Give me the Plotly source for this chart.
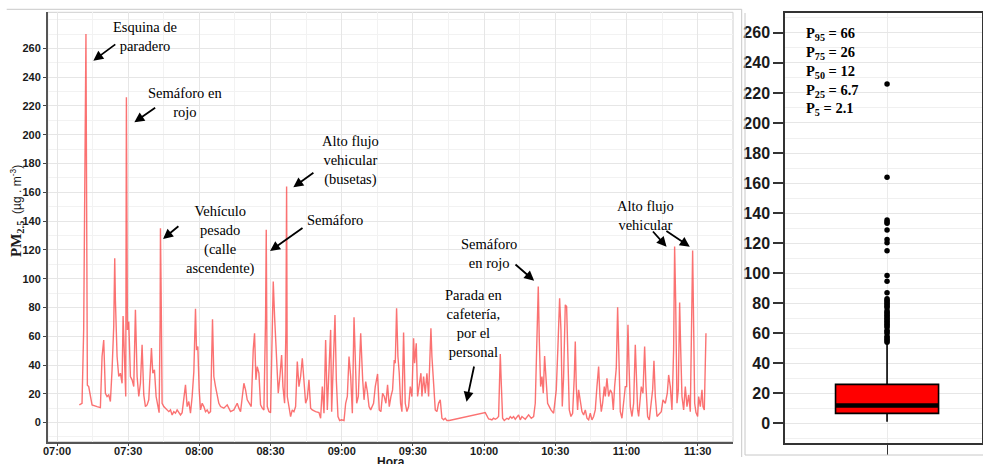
import datetime as dt
import plotly.graph_objects as go

# ---------------- data ----------------
# minutes after 07:00 and PM2.5 concentration (ug/m3)
minutes = [
    9.42, 10.55, 11.25, 11.7, 12.2, 12.5, 12.8, 13.36, 14.06, 14.77, 16.88, 18.28, 18.99, 19.69,
    20.39, 21.10, 21.80, 22.50, 23.21, 23.91, 24.33, 24.61, 25.32, 26.02, 26.72, 27.43, 27.85,
    28.41, 28.97, 29.25, 29.68, 30.24, 30.94, 31.65, 32.35, 33.05, 33.76, 34.46, 35.16, 35.86,
    36.57, 37.27, 37.97, 38.68, 39.38, 39.80, 40.37, 41.07, 41.77, 42.48, 43.04, 43.46, 43.60,
    43.88, 44.30, 45.01, 46.41, 47.12, 47.82, 48.52, 49.23, 49.93, 50.63, 52.04, 52.74, 53.45,
    54.15, 54.85, 55.56, 56.26, 56.96, 57.67, 58.37, 58.79, 59.35, 59.92, 60.48, 61.18, 61.88,
    62.59, 63.29, 63.99, 64.70, 65.54, 66.10, 66.81, 67.51, 68.21, 68.92, 70.32, 71.73, 73.14,
    74.54, 75.95, 76.65, 77.36, 78.76, 79.47, 80.17, 80.87, 81.86, 82.70, 83.26, 83.83, 84.39,
    85.09, 85.79, 86.50, 87.20, 87.90, 88.19, 88.61, 89.31, 90.01, 90.72, 91.14, 91.70, 92.26,
    92.83, 93.25, 93.95, 94.66, 95.22, 95.92, 96.48, 96.77, 97.05, 97.75, 98.45, 99.16, 99.86,
    100.56, 101.27, 101.97, 102.67, 103.38, 104.08, 104.78, 105.49, 106.19, 106.89, 107.59,
    109.00, 110.41, 111.11, 111.81, 112.52, 113.22, 113.92, 114.63, 115.33, 115.75, 116.46,
    117.16, 117.72, 118.42, 119.13, 119.83, 120.96, 121.66, 122.36, 123.07, 123.77, 124.47,
    125.18, 125.60, 126.30, 127.00, 127.99, 128.83, 129.40, 130.10, 130.80, 131.50, 132.21,
    133.42, 134.13, 135.11, 135.81, 136.51, 137.22, 137.92, 138.62, 139.32, 140.03, 140.73,
    141.43, 142.13, 142.56, 143.12, 143.68, 144.24, 144.80, 145.37, 146.07, 146.77, 147.47,
    148.18, 148.88, 149.58, 150.28, 150.71, 151.41, 151.97, 152.67, 153.38, 153.80, 154.50,
    155.20, 155.90, 156.61, 157.03, 157.59, 158.01, 158.71, 159.42, 160.12, 160.82, 161.52,
    162.23, 162.93, 163.63, 164.33, 165.32, 180.49, 181.20, 181.90, 182.60, 183.30, 184.01,
    184.71, 185.41, 186.11, 186.53, 186.82, 187.24, 187.80, 188.50, 189.63, 190.33, 191.03,
    191.73, 192.44, 193.14, 194.54, 195.25, 195.95, 197.35, 198.76, 199.88, 200.87, 201.57,
    202.27, 202.83, 203.26, 203.82, 204.38, 204.94, 205.50, 206.07, 206.77, 207.47, 208.17,
    209.30, 210.42, 211.12, 211.83, 212.39, 212.95, 213.51, 214.22, 214.78, 215.34, 215.90,
    216.60, 217.31, 218.01, 218.43, 218.85, 219.41, 219.84, 220.54, 221.24, 221.94, 222.65,
    223.35, 224.05, 224.75, 225.46, 226.16, 226.86, 227.56, 228.27, 228.83, 229.39, 229.95,
    230.66, 231.08, 231.78, 232.48, 233.19, 233.89, 234.45, 235.01, 235.71, 236.28, 236.84,
    237.40, 238.10, 238.81, 239.51, 240.07, 240.63, 241.05, 241.62, 242.32, 243.02, 243.72,
    244.15, 244.71, 245.13, 245.83, 246.25, 246.96, 247.66, 248.22, 248.92, 249.62, 250.33,
    251.03, 251.59, 252.15, 252.86, 253.56, 254.68, 255.39, 256.37, 257.21, 257.78, 258.48,
    259.18, 259.88, 260.30, 260.73, 261.29, 261.85, 262.41, 262.83, 263.39, 264.10, 264.80,
    265.50, 266.21, 266.91, 267.47, 267.89, 268.32, 268.74, 269.30, 270.00, 270.42, 271.13,
    271.83, 272.25, 272.81, 273.23, 273.51,
]
pm25 = [
    12.3, 13.4, 64.9, 200, 270, 147, 26.0, 25.0, 18.1, 12.3, 11.1, 10.4, 45.9, 57.4,
    20.4, 18.1, 19.2, 14.6, 36.6, 66.7, 114.2, 85.2, 45.9, 32.0, 34.3, 27.3, 74.1,
    48.2, 18.1, 226, 64.4, 70.2, 32.0, 29.7, 25.0, 78.3, 32.0, 18.1, 27.3, 54.0,
    19.2, 11.1, 12.3, 15.8, 41.2, 51.7, 34.3, 36.6, 18.1, 11.1, 6.9, 71.3, 135,
    92.2, 13.4, 11.1, 8.8, 7.6, 8.8, 5.3, 7.6, 6.5, 8.8, 5.3, 6.9, 18.1,
    26.2, 11.1, 14.6, 6.5, 18.1, 35.4, 79.0, 50.5, 52.8, 22.7, 8.8, 13.4, 11.1,
    7.6, 8.8, 6.5, 7.6, 71.8, 32.0, 25.0, 18.1, 13.4, 11.1, 10.0, 12.3, 7.6,
    8.8, 13.4, 10.0, 7.6, 27.3, 22.7, 15.8, 13.4, 11.1, 50.5, 62.1, 29.7, 38.9,
    34.3, 12.3, 10.0, 8.8, 72.5, 134, 11.1, 7.6, 6.9, 76.0, 98.0, 73.7, 52.8,
    38.9, 20.4, 32.0, 47.0, 25.0, 13.4, 64.4, 164, 18.1, 11.1, 4.2, 8.8, 7.6,
    11.1, 42.4, 25.0, 32.0, 44.7, 25.0, 13.4, 16.9, 29.7, 10.0, 8.8,
    7.6, 6.9, 3.0, 25.0, 6.5, 57.4, 8.8, 38.9, 64.4, 7.6, 45.9,
    74.8, 29.7, 4.2, 1.4, 1.9, 1.4, 13.4, 18.1, 45.9, 32.0, 6.5,
    73.2, 45.9, 13.4, 18.1, 62.1, 29.7, 15.8, 28.5, 21.5, 11.1, 8.8,
    13.4, 25.0, 33.8, 8.8, 7.6, 20.4, 18.1, 13.4, 26.2, 11.1, 18.1,
    22.7, 43.5, 41.2, 79.5, 45.9, 34.3, 13.4, 7.6, 62.5, 13.4, 7.6,
    11.1, 25.0, 18.1, 58.6, 41.2, 55.1, 18.1, 25.0, 34.3, 18.1, 32.0,
    20.4, 34.3, 18.1, 45.9, 65.6, 45.9, 25.0, 8.8, 7.6, 13.4, 15.8,
    3.0, 1.9, 3.0, 1.4, 1.4, 6.9, 4.2, 2.5, 2.3, 1.9, 3.0,
    2.3, 3.0, 4.2, 29.7, 47.7, 27.3, 3.0, 1.4, 3.0, 2.3, 4.2,
    3.0, 4.2, 2.3, 5.3, 1.9, 4.2, 2.3, 5.3, 3.0, 4.2, 13.4,
    64.4, 94.5, 57.4, 25.0, 32.0, 20.4, 46.3, 27.3, 13.4, 11.1, 8.8,
    6.5, 22.7, 52.8, 86.4, 64.4, 11.1, 32.0, 81.8, 80.6, 41.2, 8.8,
    4.2, 6.5, 32.0, 56.3, 25.0, 8.8, 22.7, 13.4, 7.6, 5.3, 8.8,
    3.0, 1.9, 6.5, 1.9, 4.2, 8.8, 25.0, 38.9, 18.1, 7.6, 13.4,
    25.0, 18.1, 30.8, 18.1, 22.7, 20.4, 8.8, 25.0, 37.8, 80.1, 41.2,
    7.6, 3.0, 13.4, 25.0, 25.0, 67.9, 41.2, 11.1, 4.2, 13.4, 54.0,
    29.7, 8.8, 4.2, 18.1, 25.0, 20.4, 52.8, 25.0, 4.2, 1.9, 11.1,
    22.7, 42.9, 18.1, 4.2, 5.3, 7.6, 15.8, 13.4, 20.4, 33.1, 25.0,
    8.8, 50.5, 122.3, 85.2, 13.4, 22.7, 83.4, 52.8, 18.1, 8.8, 25.0,
    11.1, 19.2, 7.6, 64.4, 119.5, 66.7, 13.4, 6.9, 4.2, 18.1, 11.1,
    22.7, 11.1, 8.8, 41.2, 62.1,
]

# box-plot summary (right panel)
box_q1 = 6.7
box_median = 12
box_q3 = 26
box_low = 1.1
box_high = 53
outliers = [225.9, 163.8, 135.4, 134.3, 133.2, 128.7, 122.5, 120.2, 114.9, 98.5, 94.7, 87.0,
            83, 82, 81, 80, 79, 78, 77, 75, 74, 73, 72, 71, 70, 69, 68, 67, 66, 65, 64,
            62, 61, 60, 58, 57, 56, 55, 54]
percentile_labels = ["95", "75", "50", "25", "5"]
percentile_values = ["66", "26", "12", "6.7", "2.1"]

y_ticks = list(range(0, 261, 20))

# ---------------- figure ----------------
base = dt.datetime(2020, 1, 1, 7, 0, 0)


def T(m):
    return base + dt.timedelta(minutes=m)


times = [T(m) for m in minutes]

W, H = 983, 464


def px_x(p):
    return p / W


def px_y(p):
    return 1 - p / H


fig = go.Figure()

fig.add_trace(go.Scatter(
    x=times, y=pm25, mode="lines",
    line=dict(color="rgba(250,60,60,0.72)", width=1.4),
    hoverinfo="skip", showlegend=False, xaxis="x", yaxis="y",
))

fig.add_trace(go.Box(
    x=[0], q1=[box_q1], median=[box_median], q3=[box_q3],
    lowerfence=[box_low], upperfence=[box_high],
    width=0.523, whiskerwidth=0, boxpoints=False,
    fillcolor="#ff0000", line=dict(color="black", width=1.6),
    showlegend=False, xaxis="x2", yaxis="y2",
))
fig.add_trace(go.Scatter(
    x=[0] * len(outliers), y=outliers, mode="markers",
    marker=dict(color="black", size=5.5),
    showlegend=False, xaxis="x2", yaxis="y2",
))

tickfont_l = dict(family="Liberation Sans", size=11, color="#1a1a1a", weight="bold")
tickfont_r = dict(family="Liberation Sans", size=16, color="#1a1a1a", weight="bold")

fig.update_layout(
    width=W, height=H, autosize=False,
    margin=dict(l=0, r=0, t=0, b=0, pad=0, autoexpand=False),
    paper_bgcolor="white", plot_bgcolor="white",
    xaxis=dict(
        domain=[px_x(47.7), px_x(733)],
        type="date",
        range=[T(-3.92), T(284.9)],
        tick0=T(0), dtick=30 * 60 * 1000, tickformat="%H:%M",
        showgrid=True, gridcolor="#e6e6e6", gridwidth=1,
        minor=dict(dtick=15 * 60 * 1000, tick0=T(0), showgrid=True, gridcolor="#f2f2f2"),
        ticks="outside", ticklen=3, tickcolor="#444", tickwidth=1,
        ticklabelstandoff=-5,
        showline=True, linecolor="#555", linewidth=1.5,
        tickfont=tickfont_l, zeroline=False, automargin=False,
    ),
    yaxis=dict(
        domain=[px_y(441.7), px_y(12.3)],
        range=[-13.3, 285.1],
        tickvals=y_ticks,
        showgrid=True, gridcolor="#e6e6e6", gridwidth=1,
        minor=dict(dtick=10, tick0=0, showgrid=True, gridcolor="#f2f2f2"),
        ticks="outside", ticklen=3, tickcolor="#444", tickwidth=1,
        showline=True, linecolor="#555", linewidth=1.5,
        tickfont=tickfont_l, zeroline=False, automargin=False,
    ),
    xaxis2=dict(
        domain=[px_x(785), px_x(982)],
        range=[-0.518, 0.482],
        tickvals=[0], ticktext=[""],
        showgrid=True, gridcolor="#ebebeb",
        ticks="outside", ticklen=10, tickcolor="#333", tickwidth=1,
        showline=True, mirror=True, linecolor="#333", linewidth=1.5,
        zeroline=False, anchor="y2", automargin=False,
    ),
    yaxis2=dict(
        domain=[px_y(443), px_y(13.3)],
        range=[-13, 273],
        tickvals=y_ticks,
        showgrid=True, gridcolor="#e6e6e6",
        minor=dict(dtick=10, tick0=0, showgrid=True, gridcolor="#f0f0f0"),
        ticks="outside", ticklen=10, tickcolor="#333", tickwidth=1.5,
        showline=True, mirror=True, linecolor="#333", linewidth=1.5,
        tickfont=tickfont_r, zeroline=False, anchor="x2", automargin=False,
    ),
)

shapes = []
# light border of left panel (top / right)
shapes.append(dict(type="rect", xref="paper", yref="paper",
                   x0=px_x(47.7), x1=px_x(733), y0=px_y(441.7), y1=px_y(12.3),
                   line=dict(color="#cfcfcf", width=1), layer="below"))
# outer frames of the two pictures
frame = dict(color="#c8c8c8", width=1)
shapes.append(dict(type="line", xref="paper", yref="paper", x0=px_x(6.7), x1=px_x(741.7),
                   y0=px_y(9.3), y1=px_y(9.3), line=frame))
shapes.append(dict(type="line", xref="paper", yref="paper", x0=px_x(741.7), x1=px_x(741.7),
                   y0=px_y(9.3), y1=px_y(457), line=frame))
shapes.append(dict(type="line", xref="paper", yref="paper", x0=px_x(745), x1=px_x(745),
                   y0=px_y(13), y1=px_y(455), line=frame))
shapes.append(dict(type="line", xref="paper", yref="paper", x0=px_x(745), x1=1,
                   y0=px_y(455), y1=px_y(455), line=frame))
# thick median line
shapes.append(dict(type="line", xref="x2", yref="y2", x0=-0.2615, x1=0.2615,
                   y0=box_median, y1=box_median, line=dict(color="black", width=4.5)))
fig.update_layout(shapes=shapes)

serif = dict(family="Liberation Serif, Times New Roman, serif", size=14.5, color="black")
annotations = []
texts = [
    ("Esquina de<br>paradero", 37.1, 268),
    ("Semáforo en<br>rojo", 53.9, 222.7),
    ("Alto flujo<br>vehicular<br>(busetas)", 123.5, 182.1),
    ("Vehículo<br>pesado<br>(calle<br>ascendente)", 68.7, 126.9),
    ("Semáforo", 117.1, 140.8),
    ("Semáforo<br>en rojo", 182.0, 117.2),
    ("Parada en<br>cafetería,<br>por el<br>personal", 175.9, 68.9),
    ("Alto flujo<br>vehicular", 248.1, 143.6),
]
for txt, m, v in texts:
    annotations.append(dict(text=txt, x=T(m), y=v, xref="x", yref="y", showarrow=False,
                            font=serif, align="center", xanchor="center", yanchor="middle"))

arrows = [  # (tail_min, tail_val, head_min, head_val)
    (25.2, 263.6, 15.3, 251.5),
    (42.0, 219.5, 32.6, 208.7),
    (108.7, 174.4, 99.6, 163.5),
    (51.8, 137.3, 44.7, 127.6),
    (104.1, 136.0, 89.8, 119.2),
    (192.6, 110.7, 201.1, 98.6),
    (175.9, 40.0, 172.6, 14.5),
    (250.6, 133.8, 256.9, 122.2),
    (256.2, 133.8, 266.7, 122.2),
]
for tm, tv, hm, hv in arrows:
    annotations.append(dict(text="", x=T(hm), y=hv, xref="x", yref="y",
                            ax=T(tm), ay=tv, axref="x", ayref="y",
                            showarrow=True, arrowhead=2, arrowsize=1.1, arrowwidth=1.8,
                            arrowcolor="black", standoff=0))

# y-axis title
annotations.append(dict(
    text='<span style="font-family:Liberation Serif;font-weight:bold;font-size:15px">PM<sub>2.5</sub></span>'
         '\u00a0\u00a0(µg . m<sup>-3</sup>)',
    x=px_x(17), y=px_y(211), xref="paper", yref="paper", textangle=-90, showarrow=False,
    font=dict(family="Liberation Sans", size=12, color="#1a1a1a"),
    xanchor="center", yanchor="middle"))
# x-axis title (partly cut at the bottom)
annotations.append(dict(text="<b>Hora</b>", x=px_x(391), y=px_y(462), xref="paper", yref="paper",
                        showarrow=False, font=dict(family="Liberation Sans", size=12, color="#1a1a1a"),
                        xanchor="center", yanchor="middle"))
# percentile text
ptxt = "<br>".join(f"<b>P<sub>{p}</sub> = {v}</b>" for p, v in zip(percentile_labels, percentile_values))
annotations.append(dict(text=ptxt, x=px_x(804), y=px_y(23), xref="paper", yref="paper",
                        showarrow=False, align="left", xanchor="left", yanchor="top",
                        font=dict(family="Liberation Serif, Times New Roman, serif", size=14.5,
                                  color="black")))
fig.update_layout(annotations=annotations)

fig.write_html("out.html", config={"displayModeBar": False},
               post_script="document.body.style.margin='0';document.body.style.overflow='hidden';")
